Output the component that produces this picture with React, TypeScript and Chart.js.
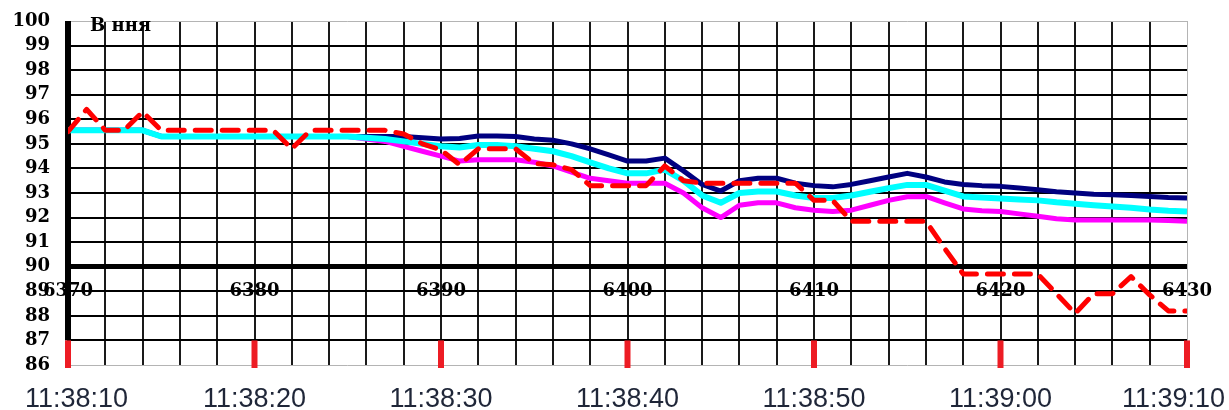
import React, { useEffect, useRef } from "react";
import { Chart, registerables } from "chart.js";

Chart.register(...registerables);

const sampleNumbers = [
  6370, 6371, 6372, 6373, 6374, 6375, 6376, 6377, 6378, 6379,
  6380, 6381, 6382, 6383, 6384, 6385, 6386, 6387, 6388, 6389,
  6390, 6391, 6392, 6393, 6394, 6395, 6396, 6397, 6398, 6399,
  6400, 6401, 6402, 6403, 6404, 6405, 6406, 6407, 6408, 6409,
  6410, 6411, 6412, 6413, 6414, 6415, 6416, 6417, 6418, 6419,
  6420, 6421, 6422, 6423, 6424, 6425, 6426, 6427, 6428, 6429,
  6430,
];

const redDashed = [
  95.5, 96.4, 95.55, 95.55, 96.3, 95.55, 95.55, 95.55, 95.55, 95.55,
  95.55, 95.55, 94.8, 95.55, 95.55, 95.55, 95.55, 95.55, 95.4, 95.0,
  94.75, 94.15, 94.8, 94.8, 94.8, 94.2, 94.15, 93.95, 93.3, 93.3,
  93.3, 93.3, 94.1, 93.5, 93.4, 93.4, 93.4, 93.4, 93.4, 93.4,
  92.7, 92.7, 91.85, 91.85, 91.85, 91.85, 91.85, 90.75, 89.7, 89.7,
  89.7, 89.7, 89.7, 88.9, 88.1, 88.9, 88.9, 89.6, 88.85, 88.2,
  88.2,
];

const navySeries = [
  95.55, 95.55, 95.55, 95.55, 95.55, 95.3, 95.3, 95.3, 95.3, 95.3,
  95.3, 95.3, 95.3, 95.3, 95.3, 95.3, 95.3, 95.3, 95.3, 95.25,
  95.2, 95.22, 95.32, 95.32, 95.3, 95.2, 95.15, 95.0, 94.8, 94.55,
  94.3, 94.3, 94.42, 93.9, 93.35, 93.08, 93.5, 93.6, 93.6, 93.4,
  93.3, 93.25, 93.35, 93.5, 93.65, 93.8, 93.65, 93.45, 93.35, 93.3,
  93.27, 93.2, 93.13, 93.05, 93.0, 92.95, 92.93, 92.9, 92.86, 92.82,
  92.8,
];

const cyanSeries = [
  95.55, 95.55, 95.55, 95.55, 95.55, 95.3, 95.3, 95.3, 95.3, 95.3,
  95.3, 95.3, 95.3, 95.3, 95.3, 95.3, 95.25, 95.2, 95.1, 95.0,
  94.9, 94.85, 94.95, 94.95, 94.9, 94.8, 94.7, 94.5, 94.25, 94.0,
  93.8, 93.8, 93.95, 93.5, 92.9, 92.6, 93.0, 93.06, 93.06, 92.9,
  92.8, 92.8, 92.9, 93.05, 93.2, 93.33, 93.33, 93.1, 92.86, 92.82,
  92.78, 92.74, 92.7, 92.62, 92.56, 92.5, 92.45, 92.4, 92.33, 92.28,
  92.25,
];

const magentaSeries = [
  95.55, 95.55, 95.55, 95.55, 95.55, 95.3, 95.3, 95.3, 95.3, 95.3,
  95.3, 95.3, 95.3, 95.3, 95.3, 95.3, 95.2, 95.1, 94.9, 94.7,
  94.5, 94.3, 94.35, 94.35, 94.35, 94.25, 94.1, 93.85, 93.6, 93.5,
  93.4, 93.4, 93.4, 93.0, 92.4, 92.0, 92.5, 92.6, 92.6, 92.4,
  92.3, 92.25, 92.3, 92.5, 92.7, 92.85, 92.86, 92.6, 92.35, 92.28,
  92.25, 92.15, 92.05, 91.95, 91.9, 91.9, 91.9, 91.9, 91.9, 91.88,
  91.85,
];

const yTickLabels = [100, 99, 98, 97, 96, 95, 94, 93, 92, 91, 90, 89, 88, 87, 86];
const xMajorTicks = [6370, 6380, 6390, 6400, 6410, 6420, 6430];
const timeLabels = ["11:38:10", "11:38:20", "11:38:30", "11:38:40", "11:38:50", "11:39:00", "11:39:10"];
const headerText = "В ння";

export default function App() {
  const ref = useRef<HTMLCanvasElement>(null);

  useEffect(() => {
    const canvas = ref.current;
    if (!canvas) return;
    const toPts = (arr: number[]) => arr.map((y, i) => ({ x: sampleNumbers[i], y }));

    const overlay = {
      id: "overlay",
      beforeDatasetsDraw(chart: any) {
        const ctx = chart.ctx;
        const xs = chart.scales.x;
        const ys = chart.scales.y;
        const left = xs.getPixelForValue(6370);
        ctx.save();
        ctx.lineCap = "butt";
        ctx.strokeStyle = "#000";
        ctx.lineWidth = 6;
        ctx.beginPath();
        ctx.moveTo(left, chart.chartArea.top);
        ctx.lineTo(left, ys.getPixelForValue(87));
        ctx.stroke();
        ctx.restore();
      },
      afterDraw(chart: any) {
        const ctx = chart.ctx;
        const xs = chart.scales.x;
        const ys = chart.scales.y;
        ctx.save();
        ctx.strokeStyle = "#ed1c24";
        ctx.lineWidth = 6;
        ctx.lineCap = "butt";
        xMajorTicks.forEach((v) => {
          const px = xs.getPixelForValue(v);
          ctx.beginPath();
          ctx.moveTo(px, ys.getPixelForValue(87));
          ctx.lineTo(px, chart.chartArea.bottom + 3);
          ctx.stroke();
        });
        ctx.fillStyle = "#000";
        ctx.font = "bold 18px 'DejaVu Serif'";
        ctx.textAlign = "right";
        ctx.textBaseline = "middle";
        yTickLabels.forEach((v) => {
          ctx.fillText(String(v), 50, ys.getPixelForValue(v));
        });
        ctx.textAlign = "center";
        xMajorTicks.forEach((v) => {
          ctx.fillText(String(v), xs.getPixelForValue(v), ys.getPixelForValue(89));
        });
        ctx.font = "bold 18px 'DejaVu Serif'";
        ctx.textAlign = "left";
        ctx.fillText(headerText, 90, 26);
        ctx.font = "27px 'Liberation Sans'";
        ctx.fillStyle = "#1f2638";
        ctx.textBaseline = "alphabetic";
        timeLabels.forEach((t, i) => {
          const w = ctx.measureText(t).width;
          let cx = xs.getPixelForValue(xMajorTicks[i]);
          cx = Math.max(25 + w / 2, Math.min(1225 - w / 2, cx));
          ctx.fillText(t, cx - w / 2, 407);
        });
        ctx.restore();
      },
    };

    const chart = new Chart(canvas, {
      type: "line",
      data: {
        datasets: [
          {
            data: toPts(redDashed),
            borderColor: "#ff0000",
            borderWidth: 5,
            borderDash: [16, 11],
            borderCapStyle: "round",
            borderJoinStyle: "round",
            pointRadius: 0,
            tension: 0,
          },
          {
            data: toPts(cyanSeries),
            borderColor: "#00ffff",
            borderWidth: 6,
            borderJoinStyle: "round",
            pointRadius: 0,
            tension: 0,
          },
          {
            data: toPts(magentaSeries),
            borderColor: "#ff00ff",
            borderWidth: 5,
            borderJoinStyle: "round",
            pointRadius: 0,
            tension: 0,
          },
          {
            data: toPts(navySeries),
            borderColor: "#000080",
            borderWidth: 5,
            borderJoinStyle: "round",
            pointRadius: 0,
            tension: 0,
          },
        ],
      },
      options: {
        animation: false,
        responsive: false,
        devicePixelRatio: 1,
        layout: { padding: { left: 68, right: 42, top: 21, bottom: 45 } },
        plugins: { legend: { display: false }, tooltip: { enabled: false } },
        scales: {
          x: {
            type: "linear",
            min: 6370,
            max: 6430,
            ticks: { display: false, stepSize: 2 },
            border: { display: false },
            grid: {
              drawTicks: false,
              color: (c: any) => (c.tick && c.tick.value === 6430 ? "#b4b4b4" : "#1a1a1a"),
              lineWidth: (c: any) => (c.tick && c.tick.value === 6430 ? 1 : 2),
            },
          },
          y: {
            type: "linear",
            min: 86,
            max: 100,
            ticks: { display: false, stepSize: 1 },
            border: { display: false },
            grid: {
              drawTicks: false,
              color: (c: any) =>
                c.tick && (c.tick.value === 100 || c.tick.value === 86) ? "#b4b4b4" : "#000",
              lineWidth: (c: any) => {
                const v = c.tick ? c.tick.value : 0;
                if (v === 90) return 5;
                if (v === 100 || v === 86) return 1;
                return 2;
              },
            },
          },
        },
      },
      plugins: [overlay],
    } as any);

    return () => chart.destroy();
  }, []);

  return (
    <div style={{ position: "absolute", left: 0, top: 0, width: 1229, height: 410, background: "#fff" }}>
      <canvas ref={ref} width={1229} height={410} style={{ display: "block" }} />
    </div>
  );
}
